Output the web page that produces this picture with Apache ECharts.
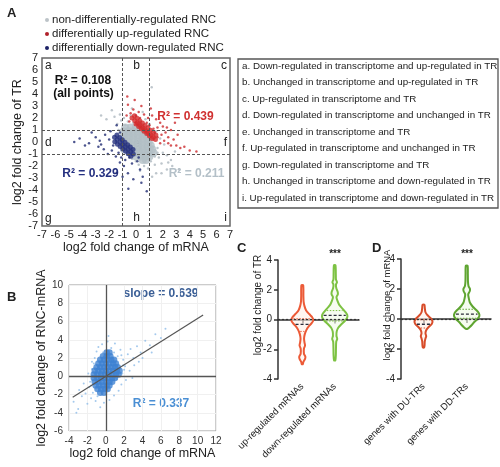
<!DOCTYPE html>
<html><head><meta charset="utf-8">
<script src="https://cdn.jsdelivr.net/npm/echarts@6/dist/echarts.min.js"></script>
<style>html,body{margin:0;padding:0;background:#fff}#c{width:500px;height:467px}</style>
</head><body><div id="c"></div>
<script>
// ---------- Panel A data (x: log2 FC mRNA, y: log2 FC TR) ----------
const grayCore = [[-0.8,1.2],[-0.4,1.2],[0,1.2],[0.3,1.3],
 [-0.9,0.9],[-0.55,0.9],[-0.2,0.9],[0.15,0.9],[0.5,0.9],
 [-0.9,0.6],[-0.55,0.6],[-0.2,0.6],[0.15,0.6],[0.5,0.6],[0.75,0.6],
 [-0.9,0.3],[-0.55,0.3],[-0.2,0.3],[0.15,0.3],[0.5,0.3],[0.85,0.3],
 [-0.9,0],[-0.55,0],[-0.2,0],[0.15,0],[0.5,0],[0.95,0],
 [-0.9,-0.3],[-0.55,-0.3],[-0.2,-0.3],[0.15,-0.3],[0.5,-0.3],[0.85,-0.3],[1.1,-0.3],
 [-0.9,-0.6],[-0.55,-0.6],[-0.2,-0.6],[0.15,-0.6],[0.5,-0.6],[0.85,-0.6],[1.2,-0.6],
 [-0.45,-0.9],[-0.1,-0.9],[0.25,-0.9],[0.6,-0.9],[0.95,-0.9],[1.3,-0.9],
 [0,-1.2],[0.35,-1.2],[0.7,-1.2],[1.0,-1.2],[0.5,-1.5],[0.75,-1.5]];
const grayScatter = [[-1.8,2.65],[-1.2,2.3],[-0.9,2.0],[-0.6,1.7],[-1.4,1.5],[-1.1,1.8],[-2.2,1.9],[-0.3,2.8],[1.17,4.57],[0.7,1.9],[1.0,1.5],[1.5,0.9],[1.8,0.3],[1.6,-0.5],[2.0,-0.9],[1.7,-1.3],[2.3,-1.1],[2.3,-2.3],[1.9,-1.8],[1.4,-1.9],[1.1,-1.6],[0.9,-2.2],[1.5,-2.6],[1.2,-2.9],[0.6,-2.0],[0.2,-1.9],[-0.3,-1.4],[-1.2,0.4],[-1.3,1.0],[-0.8,1.4],[2.6,-1.5],[2.9,-0.8],[-0.2,1.6],[0.3,1.7],[1.3,0.2],[1.2,-0.4],[0.0,-1.6],[0.9,-1.3],[-1.5,0.0],[-0.6,-1.0],[2.1,-0.2],[2.7,-2.0],[-2.6,2.2],[0.5,2.5],[1.9,-2.6],[3.2,-2.3],[1.4,-1.2],[1.6,-0.9],[0.3,-2.4],[-0.4,2.2],[-1.6,2.1],[2.4,-1.7]];
const redCore = [[-0.3,2.0],[-0.1,1.8],[0.1,1.6],[0.3,1.4],[0.5,1.2],[0.7,1.0],[0.9,0.8],[1.1,0.6],[1.3,0.4],[1.45,0.2],
 [-0.12,2.18],[0.08,1.98],[0.28,1.78],[0.48,1.58],[0.68,1.38],[0.88,1.18],[1.08,0.98],[1.28,0.78],[1.48,0.58],
 [0.0,1.5],[0.2,1.3],[0.4,1.1],[0.6,0.9],[0.8,0.7],[1.0,0.5],[1.2,0.3]];
const redScatter = [[-0.65,3.8],[-0.6,3.1],[-0.2,2.7],[0.2,2.5],[0.6,2.3],[0.9,2.0],[1.2,2.2],[1.5,1.9],[1.8,1.6],[1.6,1.2],[2.0,1.3],[2.3,1.2],[2.6,1.0],[2.2,0.8],[1.9,0.6],[2.4,0.4],[2.8,0.2],[3.0,-0.3],[3.3,-0.5],[3.6,-0.4],[4.0,-0.7],[4.5,-0.8],[2.6,-0.3],[2.1,0.1],[1.8,-0.1],[1.6,0.4],[0.3,2.0],[0.8,1.6],[1.3,1.1],[-0.4,2.4],[0.0,2.2],[1.0,1.4],[1.4,0.8],[-0.7,2.2],[2.9,1.6],[3.1,0.6],[0.4,3.0],[-0.1,3.5],[1.1,2.8],[-0.5,1.7],[2.4,-0.1]];
const blueCore = [[-1.6,0.4],[-1.4,0.2],[-1.2,0.0],[-1.0,-0.2],[-0.8,-0.4],[-0.6,-0.6],[-0.4,-0.8],[-0.2,-1.0],
 [-1.42,0.58],[-1.22,0.38],[-1.02,0.18],[-0.82,-0.02],[-0.62,-0.22],[-0.42,-0.42],[-0.22,-0.62],
 [-1.58,0.02],[-1.38,-0.18],[-1.18,-0.38],[-0.98,-0.58],[-0.78,-0.78],[-0.58,-0.98],[-0.38,-1.18]];
const blueScatter = [[-3.5,-0.1],[-4.2,0.3],[-4.6,0.0],[-3.0,0.4],[-2.6,-0.2],[-2.3,0.6],[-2.0,0.2],[-1.9,0.9],[-2.8,-0.4],[-3.3,0.8],[-1.7,-0.3],[-1.8,-0.7],[-1.3,-0.9],[-1.1,-1.3],[-0.8,-1.5],[-1.44,-2.56],[-0.57,-3.9],[0.3,-2.3],[0.8,-4.1],[-0.3,-1.8],[-0.9,-2.0],[0.1,-1.6],[-0.6,-2.6],[-1.2,-1.7],[0.5,-2.9],[-0.2,-3.1],[-1.44,1.4],[-1.2,0.8],[-2.4,-0.6],[-1.5,-1.2],[-0.5,-1.3],[0.2,-1.3],[-3.8,-0.3],[-2.1,-1.0],[0.4,-3.4],[-1.0,-2.9],[-2.7,0.1]];
const quadrantThreshold = [-1, 1];
const legendItems = ['non-differentially-regulated RNC','differentially up-regulated RNC','differentially down-regulated RNC'];
const boxLines = ['a. Down-regulated in transcriptome and up-regulated in TR','b. Unchanged in transcriptome and up-regulated in TR','c. Up-regulated in transcriptome and TR','d. Down-regulated in transcriptome and unchanged in TR','e. Unchanged in transcriptome and TR','f. Up-regulated in transcriptome and unchanged in TR','g. Down-regulated in transcriptome and TR','h. Unchanged in transcriptome and down-regulated in TR','i. Up-regulated in transcriptome and down-regulated in TR'];

// ---------- Panel B data ----------
const bCore = [[0.1,2.6],[0.4,2.6],
 [-0.3,2.2],[0.1,2.2],[0.5,2.2],
 [-0.6,1.8],[-0.2,1.8],[0.2,1.8],[0.6,1.8],[0.9,1.8],
 [-0.8,1.4],[-0.4,1.4],[0,1.4],[0.4,1.4],[0.8,1.4],[1.1,1.4],
 [-1.0,1.0],[-0.6,1.0],[-0.2,1.0],[0.2,1.0],[0.6,1.0],[1.0,1.0],[1.3,1.0],
 [-1.2,0.6],[-0.8,0.6],[-0.4,0.6],[0,0.6],[0.4,0.6],[0.8,0.6],[1.2,0.6],[1.5,0.6],
 [-1.3,0.2],[-0.9,0.2],[-0.5,0.2],[-0.1,0.2],[0.3,0.2],[0.7,0.2],[1.1,0.2],[1.4,0.2],
 [-1.3,-0.2],[-0.9,-0.2],[-0.5,-0.2],[-0.1,-0.2],[0.3,-0.2],[0.7,-0.2],[1.0,-0.2],
 [-1.2,-0.6],[-0.8,-0.6],[-0.4,-0.6],[0,-0.6],[0.4,-0.6],[0.7,-0.6],
 [-1.1,-1.0],[-0.7,-1.0],[-0.3,-1.0],[0.1,-1.0],[0.4,-1.0],
 [-0.9,-1.4],[-0.5,-1.4],[-0.1,-1.4],[0.2,-1.4],
 [-0.6,-1.8],[-0.2,-1.8]];
const bScatter = [[-3.5,-2.8],[-3.0,-3.6],[-2.6,-2.2],[-2.2,-1.9],[-2.0,-3.0],[-1.8,-1.2],[-1.6,-2.4],[-1.5,0.8],[-1.4,-1.8],[-1.9,0.3],[-1.2,2.0],[-1.0,2.7],[-0.8,3.2],[-0.4,3.5],[0.2,3.8],[0.6,3.1],[0.9,2.6],[1.3,2.2],[1.6,2.9],[1.9,1.8],[2.1,1.1],[2.4,2.4],[2.7,3.0],[3.0,2.0],[3.4,3.3],[3.8,2.6],[4.3,3.9],[4.8,3.4],[5.4,4.6],[6.0,4.2],[6.5,5.2],[2.2,-0.4],[1.7,-0.9],[1.4,-1.6],[0.9,-2.1],[0.4,-2.6],[-0.2,-2.9],[-0.6,-3.4],[-1.1,-2.7],[2.6,0.6],[3.1,1.2],[1.2,-0.3],[-1.3,1.4],[0.0,-2.0],[2.9,-0.2],[3.6,1.6],[4.0,2.0],[-2.4,-0.8],[-2.9,-1.5],[-3.2,-4.0],[5.0,2.6],[0.3,4.4],[1.0,3.6],[-0.3,2.6],[1.8,0.3],[-1.7,-0.6],[1.9,1.2],[-1.6,-1.0],[1.7,2.3],[-0.9,-2.2],[2.0,0.7],[-1.5,1.6]];
const fitX = [-3.6, 10.6];
const fitY = [-2.3, 6.7];

// ---------- Panels C, D violin data: [y, relative density] ----------
const cCategories = ['up-regulated mRNAs','down-regulated mRNAs'];
const dCategories = ['genes with DU-TRs','genes with DD-TRs'];
const cPos = [0.3, 0.7];
const dPos = [0.25, 0.73];
const cUpProfile = [[2.3,0.08],[1.6,0.1],[1.2,0.12],[0.9,0.2],[0.6,0.35],[0.35,0.65],[0.15,0.9],[-0.05,1.0],[-0.25,0.85],[-0.45,0.6],[-0.7,0.38],[-1.0,0.22],[-1.3,0.16],[-1.55,0.2],[-1.75,0.25],[-1.95,0.15],[-2.3,0.15],[-2.5,0.28],[-2.65,0.25],[-2.85,0.1],[-3.0,0.05]];
const cDownProfile = [[3.65,0.06],[3.0,0.09],[2.7,0.1],[2.5,0.18],[2.35,0.1],[2.1,0.13],[1.85,0.24],[1.7,0.25],[1.5,0.14],[1.3,0.2],[1.0,0.35],[0.75,0.6],[0.5,0.85],[0.3,1.0],[0.1,0.98],[-0.1,0.8],[-0.3,0.55],[-0.55,0.28],[-0.8,0.16],[-1.1,0.14],[-1.3,0.2],[-1.5,0.12],[-2.0,0.1],[-2.4,0.09],[-2.75,0.05]];
const dUpProfile = [[0.95,0.1],[0.7,0.15],[0.45,0.22],[0.25,0.45],[0.05,0.8],[-0.15,1.0],[-0.35,0.9],[-0.55,0.55],[-0.75,0.3],[-0.95,0.22],[-1.15,0.3],[-1.3,0.22],[-1.5,0.14],[-1.75,0.12],[-1.9,0.07]];
const dDownProfile = [[3.55,0.07],[3.0,0.09],[2.5,0.1],[2.2,0.14],[2.0,0.26],[1.85,0.24],[1.65,0.12],[1.4,0.16],[1.1,0.25],[0.85,0.45],[0.6,0.75],[0.4,0.95],[0.2,1.0],[0.0,0.85],[-0.2,0.6],[-0.4,0.4],[-0.55,0.22],[-0.65,0.07]];
const cStats = [{median:-0.33,q1:-0.8,q3:0.05},{median:0.28,q1:-0.1,q3:0.6}];
const dStats = [{median:-0.35,q1:-0.6,q3:-0.05},{median:0.33,q1:0.05,q3:0.65}];

const FONT = 'Arial, "Liberation Sans", Helvetica, sans-serif';

function densityAt(profile, y){
  for(let i=0;i<profile.length-1;i++){
    const [y0,d0]=profile[i],[y1,d1]=profile[i+1];
    if((y<=y0&&y>=y1)){const t=(y0-y)/(y0-y1||1);return d0+(d1-d0)*t;}
  }
  return 0;
}
function violinSeries(axisIdx, violins){
  return {
    type:'custom', xAxisIndex:axisIdx, yAxisIndex:axisIdx, silent:true,
    data: violins.map((v,i)=>[v.x, 0]),
    encode:{x:0,y:1},
    renderItem(params, api){
      const v = violins[params.dataIndex];
      const pr = v.profile;
      const right = pr.map(([y,d])=>{const p=api.coord([v.x,y]);return [p[0]+d*v.w,p[1]];});
      const left = pr.slice().reverse().map(([y,d])=>{const p=api.coord([v.x,y]);return [p[0]-d*v.w,p[1]];});
      const children = [{type:'polygon', shape:{points:right.concat(left), smooth:0.25},
        style:{fill:v.fill, stroke:v.color, lineWidth:2}}];
      const hl=(y,dash,col,lw)=>{const p=api.coord([v.x,y]);const hw=densityAt(pr,y)*v.w-1.5;
        return {type:'line', shape:{x1:p[0]-hw,y1:p[1],x2:p[0]+hw,y2:p[1]}, style:{stroke:col,lineWidth:lw,lineDash:dash}};};
      children.push(hl(v.stats.q1,[1.5,1.5],v.color,1));
      children.push(hl(v.stats.q3,[1.5,1.5],v.color,1));
      children.push(hl(v.stats.median,[3,2],'#2b2b3a',1.3));
      return {type:'group', children};
    },
    markLine:{silent:true, symbol:'none', label:{show:false}, lineStyle:{type:[2,2], color:'#333', width:1.2}, data:[{yAxis:0}], z:10}
  };
}

const chart = echarts.init(document.getElementById('c'), null, {renderer:'canvas'});
const aAxisLabel = {fontSize:11, color:'#222', fontFamily:FONT};
const option = {
  animation:false,
  textStyle:{fontFamily:FONT},
  grid:[
    {left:42, top:58, width:188, height:168, show:true, borderColor:'#666', borderWidth:1.5, backgroundColor:'transparent'},
    {left:69, top:285, width:147, height:146, show:true, borderColor:'#999', borderWidth:1},
    {left:278, top:260, width:81, height:119},
    {left:401, top:259, width:90, height:120}
  ],
  xAxis:[
    {gridIndex:0, type:'value', min:-7, max:7, interval:1, axisLine:{show:false}, axisTick:{show:false}, splitLine:{show:false},
      axisLabel:Object.assign({margin:3}, aAxisLabel),
      name:'log2 fold change of mRNA', nameLocation:'middle', nameGap:15, nameTextStyle:{fontSize:12.5, color:'#222'}},
    {gridIndex:1, type:'value', min:-4, max:12, interval:2, axisLine:{show:false}, axisTick:{show:false},
      splitLine:{show:true, lineStyle:{color:'#f0f0f0'}},
      axisLabel:{fontSize:10, color:'#333', margin:5},
      name:'log2 fold change of mRNA', nameLocation:'middle', nameGap:16, nameTextStyle:{fontSize:12.5, color:'#222'}},
    {gridIndex:2, type:'value', min:0, max:1, axisLine:{show:true, lineStyle:{color:'#333', width:1.5}},
      axisTick:{show:true, customValues:cPos, length:4, lineStyle:{color:'#333', width:1.5}}, splitLine:{show:false},
      axisLabel:{customValues:cPos, rotate:45, fontSize:9.5, color:'#222', margin:6, formatter:(v)=>cCategories[cPos.indexOf(v)] || ''}},
    {gridIndex:3, type:'value', min:0, max:1, axisLine:{show:true, lineStyle:{color:'#333', width:1.5}},
      axisTick:{show:true, customValues:dPos, length:4, lineStyle:{color:'#333', width:1.5}}, splitLine:{show:false},
      axisLabel:{customValues:dPos, rotate:45, fontSize:9.5, color:'#222', margin:6, formatter:(v)=>dCategories[dPos.indexOf(v)] || ''}}
  ],
  yAxis:[
    {gridIndex:0, type:'value', min:-7, max:7, interval:1, axisLine:{show:false}, axisTick:{show:false}, splitLine:{show:false},
      axisLabel:Object.assign({margin:4}, aAxisLabel),
      name:'log2 fold change of TR', nameLocation:'middle', nameGap:16, nameTextStyle:{fontSize:12.5, color:'#222'}},
    {gridIndex:1, type:'value', min:-6, max:10, interval:2, axisLine:{show:false}, axisTick:{show:false},
      splitLine:{show:true, lineStyle:{color:'#f0f0f0'}},
      axisLabel:{fontSize:10, color:'#333', margin:6},
      name:'log2 fold change of RNC-mRNA', nameLocation:'middle', nameGap:14, nameTextStyle:{fontSize:12.5, color:'#222'}},
    {gridIndex:2, type:'value', min:-4, max:4, interval:2, axisLine:{show:true, lineStyle:{color:'#333', width:1.5}},
      axisTick:{show:true, length:4, lineStyle:{color:'#333', width:1.5}}, splitLine:{show:false},
      axisLabel:{fontSize:10, color:'#222', margin:6}},
    {gridIndex:3, type:'value', min:-4, max:4, interval:2, axisLine:{show:true, lineStyle:{color:'#333', width:1.5}},
      axisTick:{show:true, length:4, lineStyle:{color:'#333', width:1.5}}, splitLine:{show:false},
      axisLabel:{fontSize:10, color:'#222', margin:6}}
  ],
  series:[
    {type:'scatter', xAxisIndex:0, yAxisIndex:0, data:grayScatter, symbolSize:2.5, itemStyle:{color:'#aeb8bf'}, silent:true,
      markLine:{silent:true, symbol:'none', label:{show:false}, lineStyle:{type:[3,2], color:'#555', width:1},
        data:[{xAxis:quadrantThreshold[0]},{xAxis:quadrantThreshold[1]},{yAxis:quadrantThreshold[0]},{yAxis:quadrantThreshold[1]}]}},
    {type:'scatter', xAxisIndex:0, yAxisIndex:0, data:grayCore, symbolSize:8, itemStyle:{color:'#b3bfc6'}, silent:true},
    {type:'scatter', xAxisIndex:0, yAxisIndex:0, data:blueCore, symbolSize:5, itemStyle:{color:'#24307e'}, silent:true},
    {type:'scatter', xAxisIndex:0, yAxisIndex:0, data:redCore, symbolSize:5, itemStyle:{color:'#d42a2c'}, silent:true},
    {type:'scatter', xAxisIndex:0, yAxisIndex:0, data:blueScatter, symbolSize:2.5, itemStyle:{color:'#1f2a72'}, silent:true},
    {type:'scatter', xAxisIndex:0, yAxisIndex:0, data:redScatter, symbolSize:2.5, itemStyle:{color:'#cc2a2e'}, silent:true},
    {type:'scatter', xAxisIndex:1, yAxisIndex:1, data:bScatter, symbolSize:2, itemStyle:{color:'#8dbbe8'}, silent:true,
      markLine:{silent:true, symbol:'none', label:{show:false}, lineStyle:{type:'solid', color:'#555', width:1.3},
        data:[{xAxis:0},{yAxis:0}]}},
    {type:'scatter', xAxisIndex:1, yAxisIndex:1, data:bCore, symbolSize:6.5, itemStyle:{color:'#3f82d2'}, silent:true},
    {type:'line', xAxisIndex:1, yAxisIndex:1, data:fitX.map((x,i)=>[x,fitY[i]]), symbol:'none', lineStyle:{color:'#555', width:1.2}, silent:true, z:5},
    violinSeries(2, [
      {x:cPos[0], profile:cUpProfile, w:11, color:'#ec5a37', fill:'rgba(255,240,232,0.6)', stats:cStats[0]},
      {x:cPos[1], profile:cDownProfile, w:12.6, color:'#7dc243', fill:'rgba(240,250,230,0.6)', stats:cStats[1]}
    ]),
    violinSeries(3, [
      {x:dPos[0], profile:dUpProfile, w:9, color:'#d84d2b', fill:'rgba(255,238,228,0.6)', stats:dStats[0]},
      {x:dPos[1], profile:dDownProfile, w:12.7, color:'#5fa531', fill:'rgba(238,250,228,0.6)', stats:dStats[1]}
    ])
  ],
  graphic:[]
};

const G = option.graphic;
const txt = (x,y,text,o)=>G.push(Object.assign({type:'text', x, y, silent:true, style:Object.assign({text, fill:'#222', font:'12px '+FONT, align:'left', verticalAlign:'middle'}, o||{})}));
// panel labels
txt(7,13,'A',{font:'bold 13px '+FONT});
txt(7,297,'B',{font:'bold 13px '+FONT});
txt(237,248,'C',{font:'bold 13px '+FONT});
txt(372,248,'D',{font:'bold 13px '+FONT});
// legend
const legendColors = ['#bcc3c8','#b0202a','#1c2266'];
legendItems.forEach((t,i)=>{
  const y = 20 + i*14;
  G.push({type:'circle', shape:{cx:47, cy:y, r:2}, style:{fill:legendColors[i]}, silent:true});
  txt(52, y, t, {font:'11.5px '+FONT});
});
// quadrant letters
[['a',45,66,'left'],['b',136.5,66,'center'],['c',227,66,'right'],['d',45,142.5,'left'],['e',136.5,143.5,'center'],['f',227,142.5,'right'],['g',45,219,'left'],['h',136.5,218,'center'],['i',227,218,'right']]
  .forEach(([t,x,y,a])=>txt(x,y,t,{align:a, font:'12px '+FONT}));
// R² annotations
txt(83,80.5,'R² = 0.108',{align:'center', font:'bold 12px '+FONT, fill:'#111'});
txt(83.5,94,'(all points)',{align:'center', font:'bold 12px '+FONT, fill:'#111'});
txt(185.5,117,'R² = 0.439',{align:'center', font:'bold 12px '+FONT, fill:'#d03030'});
txt(90.5,173.5,'R² = 0.329',{align:'center', font:'bold 12px '+FONT, fill:'#253080'});
txt(196.5,173.5,'R² = 0.211',{align:'center', font:'bold 12px '+FONT, fill:'#b4c0c8'});
// explanation box
G.push({type:'rect', shape:{x:238, y:59, width:260, height:149}, style:{fill:'none', stroke:'#555', lineWidth:1.3}, silent:true});
boxLines.forEach((t,i)=>txt(242, 66 + i*16.5, t, {font:'9.8px '+FONT, fill:'#222'}));
// panel B annotations
txt(161,294,'slope = 0.639',{align:'center', font:'bold 12px '+FONT, fill:'#3b5f96'});
txt(161,404,'R² = 0.337',{align:'center', font:'bold 12px '+FONT, fill:'#4a8fd4'});
// panels C, D
txt(335,254,'***',{align:'center', font:'bold 10px '+FONT});
txt(467,254,'***',{align:'center', font:'bold 10px '+FONT});
G.push({type:'text', x:258, y:305, rotation:Math.PI/2, silent:true, style:{text:'log2 fold change of TR', font:'10px '+FONT, fill:'#222', align:'center', verticalAlign:'middle'}});
G.push({type:'text', x:387, y:305, rotation:Math.PI/2, silent:true, style:{text:'log2 fold change of mRNA', font:'9.5px '+FONT, fill:'#222', align:'center', verticalAlign:'middle'}});

chart.setOption(option);
</script>
</body></html>
